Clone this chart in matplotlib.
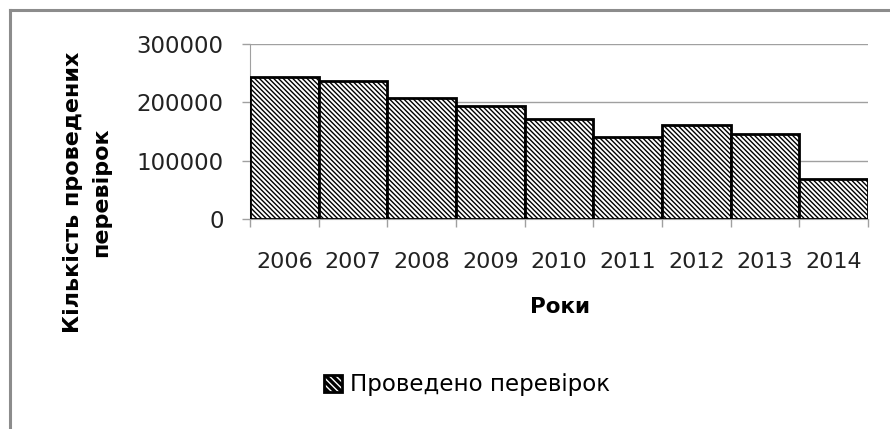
import numpy as np
import matplotlib
matplotlib.use("Agg")
import matplotlib.pyplot as plt

# data
years = ["2006", "2007", "2008", "2009", "2010", "2011", "2012", "2013", "2014"]
checks = [244000, 236000, 208000, 193000, 172000, 141000, 161000, 146000, 68000]
y_ticks = [0, 100000, 200000, 300000]

plt.rcParams['font.family'] = ['DejaVu Sans']
plt.rcParams['hatch.linewidth'] = 1.0

W, H = 890, 429
fig = plt.figure(figsize=(W / 100, H / 100), dpi=100)

# plot area in pixels: left 250, right 868, top 44, bottom 219
ax = fig.add_axes([250 / W, 1 - 219 / H, 618 / W, 175 / H])

x = np.arange(len(years))
ax.bar(x, checks, width=1.0, color='white', edgecolor='black', linewidth=2.0,
       hatch='\\' * 7, zorder=3, label='Проведено перевірок')

ax.set_xlim(-0.5, len(years) - 0.5)
ax.set_ylim(0, 300000)
ax.set_yticks(y_ticks)
ax.set_yticklabels([str(v) for v in y_ticks], fontsize=16.5, color='#222222')
ax.set_xticks(x)
ax.set_xticklabels(years, fontsize=16, color='#222222')
ax.tick_params(axis='x', length=0, pad=24)
ax.tick_params(axis='y', length=6, color='#a0a0a0', width=1, pad=13)

# tick marks between categories
ax.set_xticks(np.arange(-0.5, len(years)), minor=True)
ax.tick_params(axis='x', which='minor', length=6, color='#a0a0a0', width=1)

ax.grid(axis='y', color='#a0a0a0', linewidth=1, zorder=0)
for s in ['top', 'right']:
    ax.spines[s].set_visible(False)
ax.spines['left'].set_color('#a0a0a0')
ax.spines['bottom'].set_color('#a0a0a0')

fig.text(560 / W, 1 - 307 / H, 'Роки', fontsize=15.5, fontweight='bold',
         ha='center', va='center')
fig.text(87 / W, 1 - 192 / H, 'Кількість проведених\nперевірок', fontsize=16,
         fontweight='bold', rotation=90, ha='center', va='center',
         linespacing=1.5)

leg = fig.legend(loc='center', bbox_to_anchor=(467 / W, 1 - 385 / H),
                 frameon=False, fontsize=16.5, handlelength=0.75,
                 handleheight=0.75, handletextpad=0.35)
for h in leg.legend_handles:
    h.set_facecolor('black')
    h.set_edgecolor('black')
    h.set_hatch('\\' * 5)
    h._hatch_color = (1, 1, 1, 1)

# outer chart border (only left and top visible)
fig.add_artist(plt.Line2D([10 / W, 10 / W], [0, 1 - 10 / H], color='#8c8c8c',
                          linewidth=2.2, transform=fig.transFigure))
fig.add_artist(plt.Line2D([10 / W, 1], [1 - 10 / H, 1 - 10 / H], color='#8c8c8c',
                          linewidth=2.2, transform=fig.transFigure))

fig.savefig('out.png', dpi=100)
